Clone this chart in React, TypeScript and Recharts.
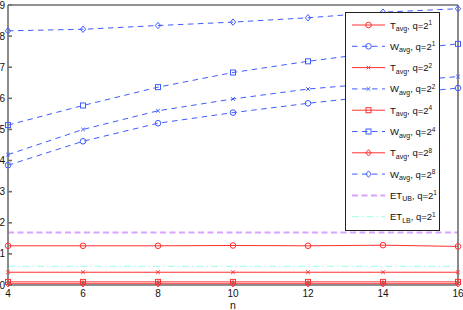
import { LineChart, Line, XAxis, YAxis, ReferenceLine } from 'recharts'

const nValues = [4, 6, 8, 10, 12, 14, 16]
const tAvgQ1 = [1.26, 1.26, 1.26, 1.27, 1.26, 1.28, 1.24]
const wAvgQ1 = [3.85, 4.62, 5.2, 5.54, 5.84, 6.1, 6.33]
const tAvgQ2 = [0.41, 0.41, 0.41, 0.41, 0.41, 0.41, 0.41]
const wAvgQ2 = [4.19, 5.0, 5.6, 5.98, 6.3, 6.5, 6.7]
const tAvgQ4 = [0.1, 0.1, 0.1, 0.1, 0.1, 0.1, 0.1]
const wAvgQ4 = [5.14, 5.77, 6.36, 6.83, 7.19, 7.5, 7.75]
const tAvgQ8 = [0.04, 0.04, 0.04, 0.04, 0.04, 0.04, 0.04]
const wAvgQ8 = [8.17, 8.22, 8.34, 8.45, 8.59, 8.77, 8.88]
const etUpper = 1.69
const etLower = 0.6

const xTicks = [4, 6, 8, 10, 12, 14, 16]
const yTicks = [0, 1, 2, 3, 4, 5, 6, 7, 8, 9]

const RED = '#ff3030'
const BLUE = '#3f5cff'
const PURPLE = '#d8a2ff'
const CYAN = '#9cffe8'
const AXIS = '#6e6e6e'
const FONT = '"Liberation Sans", Arial, sans-serif'

type Shape = 'circle' | 'x' | 'square' | 'diamond'

interface SeriesDef {
  key: string
  values: number[]
  kind: 'T' | 'W'
  shape: Shape
  q: string
}

const series: SeriesDef[] = [
  { key: 'tQ1', values: tAvgQ1, kind: 'T', shape: 'circle', q: '1' },
  { key: 'wQ1', values: wAvgQ1, kind: 'W', shape: 'circle', q: '1' },
  { key: 'tQ2', values: tAvgQ2, kind: 'T', shape: 'x', q: '2' },
  { key: 'wQ2', values: wAvgQ2, kind: 'W', shape: 'x', q: '2' },
  { key: 'tQ4', values: tAvgQ4, kind: 'T', shape: 'square', q: '4' },
  { key: 'wQ4', values: wAvgQ4, kind: 'W', shape: 'square', q: '4' },
  { key: 'tQ8', values: tAvgQ8, kind: 'T', shape: 'diamond', q: '8' },
  { key: 'wQ8', values: wAvgQ8, kind: 'W', shape: 'diamond', q: '8' },
]

const data = nValues.map((n, i) => {
  const row: Record<string, number> = { n }
  series.forEach((s) => {
    row[s.key] = s.values[i]
  })
  return row
})

function Marker({ cx, cy, shape, color }: { cx: number; cy: number; shape: Shape; color: string }) {
  if (cx == null || cy == null) return null
  const common = { fill: 'none', stroke: color, strokeWidth: 1 }
  if (shape === 'circle') return <circle cx={cx} cy={cy} r={2.8} {...common} />
  if (shape === 'square') return <rect x={cx - 2.5} y={cy - 2.5} width={5} height={5} {...common} />
  if (shape === 'diamond')
    return <path d={`M${cx},${cy - 3.2}L${cx + 2.7},${cy}L${cx},${cy + 3.2}L${cx - 2.7},${cy}Z`} {...common} />
  return (
    <path
      d={`M${cx - 1.8},${cy - 1.8}L${cx + 1.8},${cy + 1.8}M${cx - 1.8},${cy + 1.8}L${cx + 1.8},${cy - 1.8}`}
      {...common}
    />
  )
}

function LegendText({ x, y, main, sub, q }: { x: number; y: number; main: string; sub: string; q: string }) {
  return (
    <text x={x} y={y} fontSize={9.5} fontFamily={FONT} fill="#111">
      <tspan>{main}</tspan>
      <tspan dy={2.5} fontSize={7}>{sub}</tspan>
      <tspan dy={-2.5}>, q=2</tspan>
      <tspan dy={-3.5} fontSize={6.5}>{q}</tspan>
    </text>
  )
}

function ChartLegend() {
  const rowH = 21.3
  const first = 13
  return (
    <svg
      width={95}
      height={219}
      style={{ position: 'absolute', left: 345, top: 12, background: '#fff' }}
    >
      <rect x={0.5} y={0.5} width={94} height={218} fill="#fff" stroke="#222" strokeWidth={1} />
      {series.map((s, i) => {
        const cy = first + i * rowH
        const color = s.kind === 'T' ? RED : BLUE
        return (
          <g key={s.key}>
            <line
              x1={7}
              x2={40}
              y1={cy}
              y2={cy}
              stroke={color}
              strokeDasharray={s.kind === 'W' ? '5.5 4.5' : undefined}
            />
            <Marker cx={23.5} cy={cy} shape={s.shape} color={color} />
            <LegendText x={45} y={cy + 3.5} main={s.kind} sub="avg" q={s.q} />
          </g>
        )
      })}
      <line x1={7} x2={40} y1={first + 8 * rowH} y2={first + 8 * rowH} stroke={PURPLE} strokeWidth={2} strokeDasharray="6 3.5" />
      <LegendText x={45} y={first + 8 * rowH + 3.5} main="ET" sub="UB" q="1" />
      <line x1={7} x2={40} y1={first + 9 * rowH} y2={first + 9 * rowH} stroke={CYAN} strokeDasharray="7 3 1.5 3" />
      <LegendText x={45} y={first + 9 * rowH + 3.5} main="ET" sub="LB" q="1" />
    </svg>
  )
}

export default function App() {
  const tickStyle = { fontSize: 10, fontFamily: FONT, fill: '#111' }
  return (
    <div style={{ position: 'absolute', left: 0, top: 0, width: 463, height: 310, background: '#fff' }}>
      <LineChart width={463} height={310} data={data} margin={{ top: 0, right: 0, left: 0, bottom: 0 }}>
        <XAxis
          dataKey="n"
          type="number"
          domain={[4, 16]}
          ticks={xTicks}
          height={25}
          tickSize={-4}
          tickMargin={9}
          stroke={AXIS}
          strokeWidth={1.6}
          tick={tickStyle}
          label={{ value: 'n', position: 'insideBottom', offset: 1, style: { fontSize: 10.5, fontFamily: FONT, fill: '#111' } }}
        />
        <XAxis
          xAxisId="top"
          orientation="top"
          dataKey="n"
          type="number"
          domain={[4, 16]}
          ticks={xTicks}
          height={5}
          tickSize={-4}
          tick={false}
          stroke={AXIS}
          strokeWidth={1.6}
        />
        <YAxis
          type="number"
          domain={[0, 9]}
          ticks={yTicks}
          width={8}
          tickSize={-4}
          tickMargin={7}
          stroke={AXIS}
          strokeWidth={1.6}
          tick={tickStyle}
        />
        <YAxis
          yAxisId="right"
          orientation="right"
          type="number"
          domain={[0, 9]}
          ticks={yTicks}
          width={5}
          tickSize={-4}
          tick={false}
          stroke={AXIS}
          strokeWidth={1.6}
        />
        <ReferenceLine y={etUpper} stroke={PURPLE} strokeWidth={2} strokeDasharray="6 3.5" />
        <ReferenceLine y={etLower} stroke={CYAN} strokeWidth={1} strokeDasharray="7 3 1.5 3" />
        {series.map((s) => {
          const color = s.kind === 'T' ? RED : BLUE
          return (
            <Line
              key={s.key}
              dataKey={s.key}
              type="linear"
              stroke={color}
              strokeWidth={1}
              strokeDasharray={s.kind === 'W' ? '5.5 4.5' : undefined}
              isAnimationActive={false}
              activeDot={false}
              dot={(p: any) => (
                <Marker key={`${s.key}-${p.index}`} cx={p.cx} cy={p.cy} shape={s.shape} color={color} />
              )}
            />
          )
        })}
      </LineChart>
      <ChartLegend />
    </div>
  )
}
